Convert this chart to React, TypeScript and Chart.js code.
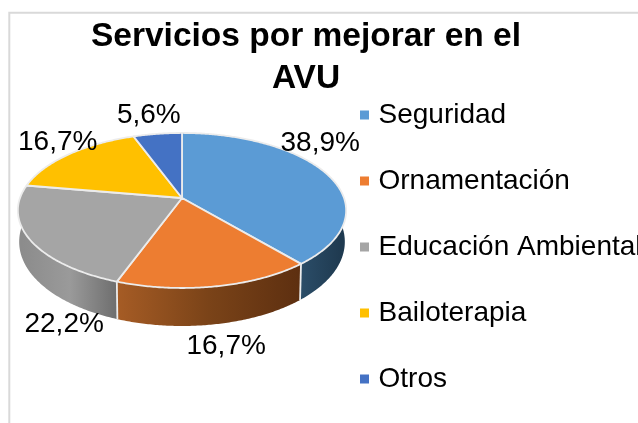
import React, { useEffect, useRef } from "react";
import { Chart, registerables } from "chart.js";

Chart.register(...registerables);

const titleLines = ["Servicios por mejorar en el", "AVU"];
const categories = ["Seguridad", "Ornamentación", "Educación Ambiental", "Bailoterapia", "Otros"];
const seriesValues = [38.9, 16.7, 22.2, 16.7, 5.6];
const sliceColors = ["#5b9bd5", "#ed7d31", "#a5a5a5", "#ffc000", "#4472c4"];
const wallStops = [
  ["#2b4d68", "#1f3a50"],
  ["#a65c25", "#7a4318", "#5d2f10"],
  ["#8c8c8c", "#9a9a9a", "#6e6e6e"],
  ["#000000", "#000000"],
  ["#000000", "#000000"],
];
const labelNudges = [
  [-6, -30],
  [10.5, 59.6],
  [34.6, 85],
  [-11.5, -12],
  [-8.7, -18.8],
];

const FONT = '"Liberation Sans", Arial, sans-serif';
const APEX_X = 182;
const APEX_Y = 198;
const A = 162;
const B = 75.5;
const K = 0.161;

// Chart.js angles start at -PI/2 (12 o'clock) and grow clockwise.
function rim(angle: number, depth = 0) {
  const X = Math.cos(angle);
  const Y = Math.sin(angle);
  const den = 1 - K * Y;
  const s = depth ? 0.992 : 1;
  return {
    x: APEX_X + (s * A * X) / den,
    y: APEX_Y + (B * Y) / den + (depth ? depth + 8 * Y : 0),
  };
}

function traceRim(ctx: CanvasRenderingContext2D, a0: number, a1: number, depth = 0, move = false) {
  const n = Math.max(2, Math.ceil(Math.abs(a1 - a0) / 0.01));
  for (let i = 0; i <= n; i++) {
    const p = rim(a0 + ((a1 - a0) * i) / n, depth);
    if (i === 0 && move) ctx.moveTo(p.x, p.y);
    else ctx.lineTo(p.x, p.y);
  }
}

const WALL_DEPTH = 30;
const SEAM = "#ececec";

const pie3d = {
  id: "pie3d",
  beforeDraw(chart: any) {
    const { ctx } = chart;
    ctx.save();
    ctx.strokeStyle = "#d9d9d9";
    ctx.lineWidth = 2;
    ctx.beginPath();
    ctx.moveTo(9.3, 423);
    ctx.lineTo(9.3, 12.7);
    ctx.lineTo(638, 12.7);
    ctx.stroke();
    ctx.restore();
  },
  afterLayout(chart: any) {
    const l = chart.legend;
    if (!l) return;
    l.maxHeight = 423;
    l.maxWidth = 400;
    l.fit();
    l.left = 364.5 - l.options.labels.padding;
    l.right = l.left + l.width;
    l.top = 101 - l.options.labels.padding;
    l.bottom = l.top + l.height;
    l.adjustHitBoxes();
  },
  beforeDatasetDraw(chart: any, args: any) {
    const { ctx } = chart;
    const arcs = chart.getDatasetMeta(args.index).data;
    const front0 = (-5 * Math.PI) / 180;
    const front1 = (185 * Math.PI) / 180;
    ctx.save();
    // side wall
    arcs.forEach((arc: any, i: number) => {
      const a0 = Math.max(arc.startAngle, front0);
      const a1 = Math.min(arc.endAngle, front1);
      if (a1 <= a0) return;
      const p0 = rim(a0);
      const p1 = rim(a1);
      const xs = [p0.x, p1.x];
      const g = ctx.createLinearGradient(Math.min(...xs), 0, Math.max(...xs), 0);
      const stops = wallStops[i];
      stops.forEach((c, k) => g.addColorStop(k / (stops.length - 1), c));
      ctx.beginPath();
      traceRim(ctx, a0, a1, 0, true);
      traceRim(ctx, a1, a0, WALL_DEPTH);
      ctx.closePath();
      ctx.fillStyle = g;
      ctx.fill();
    });
    ctx.strokeStyle = SEAM;
    ctx.lineWidth = 1.8;
    arcs.forEach((arc: any) => {
      const a = arc.endAngle;
      if (a > front0 && a < front1) {
        const p = rim(a);
        const q = rim(a, WALL_DEPTH);
        ctx.beginPath();
        ctx.moveTo(p.x, p.y);
        ctx.lineTo(q.x, q.y);
        ctx.stroke();
      }
    });
    // top face
    arcs.forEach((arc: any, i: number) => {
      ctx.beginPath();
      ctx.moveTo(APEX_X, APEX_Y);
      traceRim(ctx, arc.startAngle, arc.endAngle);
      ctx.closePath();
      ctx.fillStyle = sliceColors[i];
      ctx.fill();
      ctx.lineJoin = "round";
      ctx.stroke();
    });
    ctx.restore();
    return false;
  },
  afterDatasetsDraw(chart: any) {
    const { ctx } = chart;
    const arcs = chart.getDatasetMeta(0).data;
    ctx.save();
    ctx.font = `28px ${FONT}`;
    ctx.fillStyle = "#000000";
    ctx.textAlign = "center";
    ctx.textBaseline = "middle";
    arcs.forEach((arc: any, i: number) => {
      const p = rim((arc.startAngle + arc.endAngle) / 2);
      const text = `${seriesValues[i].toFixed(1).replace(".", ",")}%`;
      ctx.fillText(text, p.x + labelNudges[i][0], p.y + labelNudges[i][1]);
    });
    ctx.restore();
  },
};

export default function App() {
  const ref = useRef<HTMLCanvasElement | null>(null);
  useEffect(() => {
    if (!ref.current) return;
    const chart = new Chart(ref.current, {
      type: "pie",
      data: {
        labels: categories,
        datasets: [{ data: seriesValues, backgroundColor: sliceColors, borderWidth: 0 }],
      },
      plugins: [pie3d],
      options: {
        responsive: false,
        animation: false,
        layout: { padding: { right: 26 } },
        plugins: {
          tooltip: { enabled: false },
          title: {
            display: true,
            text: titleLines,
            color: "#000000",
            font: { family: FONT, size: 33.5, weight: "bold", lineHeight: 1.25 },
            padding: { top: 16, bottom: 0 },
          },
          legend: {
            display: true,
            position: "right",
            align: "start",
            labels: {
              font: { family: FONT, size: 28 },
              color: "#000000",
              usePointStyle: true,
              pointStyle: "rect",
              boxWidth: 0.01,
              boxHeight: 9,
              padding: 38,
            },
          },
        },
      },
    } as any);
    return () => chart.destroy();
  }, []);
  return (
    <canvas
      ref={ref}
      width={638}
      height={423}
      style={{ position: "absolute", left: 0, top: 0, display: "block" }}
    />
  );
}
